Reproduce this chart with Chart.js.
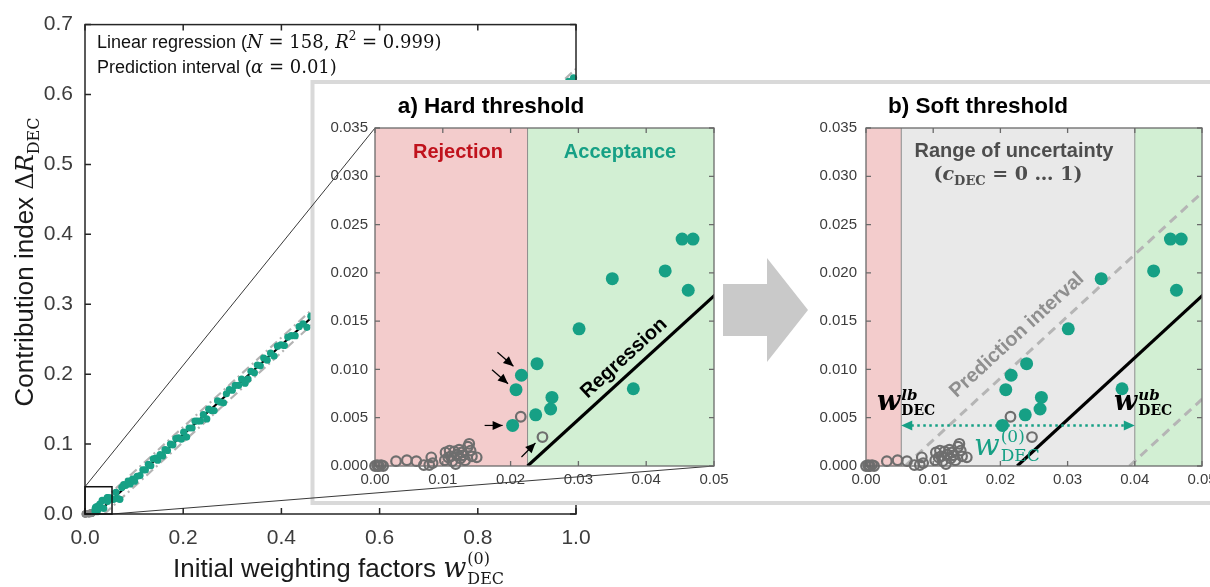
<!DOCTYPE html>
<html><head><meta charset="utf-8">
<script src="https://cdn.jsdelivr.net/npm/chart.js@4.4.1/dist/chart.umd.min.js"></script>
<style>
html,body{margin:0;padding:0;background:#fff;overflow:hidden;}
#wrap{position:relative;width:1210px;height:587px;overflow:hidden;background:#fff;}
canvas{position:absolute;left:0;top:0;}
</style></head><body>
<div id="wrap">
<canvas id="cMain" width="1300" height="587"></canvas>
<canvas id="cA" width="1300" height="587"></canvas>
<canvas id="cB" width="1300" height="587"></canvas>
</div>
<script>
// ---------------- DATA ----------------
const mainTealX=[0.052,0.058,0.063,0.067,0.071,0.075,0.079,0.083,0.088,0.092,0.097,0.101,0.106,0.112,0.118,0.123,0.129,0.134,0.139,0.144,0.148,0.153,0.158,0.163,0.168,0.174,0.179,0.185,0.190,0.196,0.201,0.207,0.212,0.218,0.224,0.229,0.235,0.241,0.248,0.252,0.258,0.263,0.270,0.276,0.282,0.288,0.294,0.300,0.306,0.313,0.319,0.326,0.332,0.338,0.345,0.351,0.357,0.364,0.371,0.378,0.385,0.392,0.399,0.406,0.413,0.420,0.428,0.436,0.444,0.452,0.460,0.52,0.58,0.64,0.70,0.76,0.82,0.88,0.94,0.972,0.985,0.995];
const mainTealY=[0.023,0.021,0.031,0.022,0.021,0.038,0.042,0.041,0.047,0.043,0.050,0.047,0.054,0.055,0.063,0.063,0.071,0.069,0.079,0.080,0.077,0.085,0.083,0.092,0.091,0.100,0.099,0.108,0.109,0.107,0.117,0.110,0.123,0.123,0.133,0.133,0.133,0.142,0.136,0.150,0.148,0.148,0.162,0.160,0.159,0.172,0.178,0.177,0.184,0.184,0.193,0.187,0.193,0.204,0.202,0.213,0.212,0.223,0.220,0.230,0.226,0.240,0.242,0.241,0.253,0.255,0.255,0.268,0.272,0.267,0.283,0.321,0.357,0.392,0.436,0.470,0.513,0.547,0.589,0.612,0.619,0.624];
const acceptedX=[0.0203,0.0208,0.0216,0.0237,0.0239,0.0259,0.0261,0.0301,0.0350,0.0381,0.0428,0.0453,0.0462,0.0469];
const acceptedY=[0.0042,0.0079,0.0094,0.0053,0.0106,0.0059,0.0071,0.0142,0.0194,0.0080,0.0202,0.0235,0.0182,0.0235];
const rejectedX=[0.0000,0.0003,0.0004,0.0006,0.0009,0.0012,0.0031,0.0047,0.0061,0.0072,0.0080,0.0083,0.0085,0.0103,0.0104,0.0108,0.0110,0.0112,0.0114,0.0117,0.0119,0.0121,0.0124,0.0126,0.0128,0.0130,0.0133,0.0137,0.0139,0.0141,0.0143,0.0150,0.0215,0.0247];
const rejectedY=[0.0000,0.0001,0.0000,0.0000,0.0001,0.0000,0.0005,0.0006,0.0005,0.0001,0.0001,0.0009,0.0003,0.0006,0.0014,0.0009,0.0016,0.0010,0.0005,0.0015,0.0002,0.0012,0.0017,0.0008,0.0014,0.0011,0.0006,0.0020,0.0023,0.0016,0.0010,0.0009,0.0051,0.0030];
const regressionX=[0.0225,1.0];
const regressionY=[0.0,0.626];
const piUpperX=[0.0058,1.0];
const piUpperY=[0.0,0.6367];
const piLowerX=[0.0392,1.0];
const piLowerY=[0.0,0.6153];
const hardThreshold=[0.0225];
const softBounds=[0.00525,0.04];
const zoomBox=[0.055,0.039];
const markedX=[0.0216,0.0208,0.0203,0.0247];
const markedY=[0.0094,0.0079,0.0042,0.0030];
const uncertaintyLevel=[0.0042];
const mainXTicks=[0,0.2,0.4,0.6,0.8,1.0];
const mainYTicks=[0,0.1,0.2,0.3,0.4,0.5,0.6,0.7];
const insetXTicks=[0,0.01,0.02,0.03,0.04,0.05];
const insetYTicks=[0,0.005,0.010,0.015,0.020,0.025,0.030,0.035];

// ---------------- STYLE ----------------
const W=1300,H=587;
const TEAL='#16a085', GRAYPT='#6e6e6e', TICKC='#3c3c3c';
const SANS='"Liberation Sans", Arial, sans-serif';
const SERIF='"DejaVu Serif", serif';
Chart.defaults.font.family=SANS;
const AREA={main:[85,22,576,514],a:[375,128,714,466],b:[866,128,1202,466]};

function pts(xs,ys){return xs.map((x,i)=>({x:x,y:ys[i]}));}

function rich(ctx,x,y,segs,align){
  const widths=segs.map(s=>{
    if(s.sup!==undefined){ctx.font=s.f;const a=ctx.measureText(s.sup).width;ctx.font=s.f2||s.f;const b=ctx.measureText(s.sub).width;return Math.max(a,b)+(s.k||0);}
    ctx.font=s.f;return ctx.measureText(s.t).width+(s.k||0);
  });
  const total=widths.reduce((p,q)=>p+q,0);
  let cx=align==='center'?x-total/2:align==='right'?x-total:x;
  ctx.textAlign='left';ctx.textBaseline='alphabetic';
  segs.forEach((s,i)=>{
    ctx.fillStyle=s.c||'#000';
    if(s.sup!==undefined){ctx.font=s.f;ctx.fillText(s.sup,cx,y+s.supDy);ctx.font=s.f2||s.f;ctx.fillText(s.sub,cx,y+s.subDy);}
    else{ctx.font=s.f;ctx.fillText(s.t,cx,y+(s.dy||0));}
    cx+=widths[i];
  });
}

function frame(chart,color,lw,len){
  const ctx=chart.ctx,a=chart.chartArea,x=chart.scales.x,y=chart.scales.y;
  ctx.save();ctx.strokeStyle=color;ctx.lineWidth=lw;
  ctx.strokeRect(a.left,a.top,a.right-a.left,a.bottom-a.top);
  ctx.beginPath();
  x.ticks.forEach(t=>{const p=x.getPixelForValue(t.value);ctx.moveTo(p,a.bottom);ctx.lineTo(p,a.bottom-len);ctx.moveTo(p,a.top);ctx.lineTo(p,a.top+len);});
  y.ticks.forEach(t=>{const p=y.getPixelForValue(t.value);ctx.moveTo(a.left,p);ctx.lineTo(a.left+len,p);ctx.moveTo(a.right,p);ctx.lineTo(a.right-len,p);});
  ctx.stroke();ctx.restore();
}

function arrowHead(ctx,x1,y1,x2,y2,len,wid){
  const ang=Math.atan2(y2-y1,x2-x1);
  ctx.beginPath();ctx.moveTo(x2,y2);
  ctx.lineTo(x2-len*Math.cos(ang)+wid*Math.sin(ang),y2-len*Math.sin(ang)-wid*Math.cos(ang));
  ctx.lineTo(x2-len*Math.cos(ang)-wid*Math.sin(ang),y2-len*Math.sin(ang)+wid*Math.cos(ang));
  ctx.closePath();ctx.fill();
}

function makeScales(area,xmin,xmax,ymin,ymax,xt,yt,fs,xdec,ydec,xpad,ypad){
  const [L,T,R,B]=area;
  return {
    x:{type:'linear',min:xmin,max:xmax,afterFit:s=>{s.height=H-B;},afterBuildTicks:s=>{s.ticks=xt.map(v=>({value:v}));},
       grid:{display:false,drawTicks:false},border:{display:false},
       ticks:{autoSkip:false,maxRotation:0,font:{size:fs},color:TICKC,padding:xpad,callback:v=>Number(v).toFixed(xdec)}},
    y:{type:'linear',min:ymin,max:ymax,afterFit:s=>{s.width=L;},afterBuildTicks:s=>{s.ticks=yt.map(v=>({value:v}));},
       grid:{display:false,drawTicks:false},border:{display:false},
       ticks:{autoSkip:false,font:{size:fs},color:TICKC,padding:ypad,callback:v=>Number(v).toFixed(ydec)}}
  };
}
function layoutFor(area){const [L,T,R,B]=area;return {padding:{left:0,top:T,right:W-R,bottom:0}};}

// ---------------- MAIN CHART ----------------
const mainPlugin={id:'mainDeco',
  afterDraw(chart){
    const ctx=chart.ctx,x=chart.scales.x,y=chart.scales.y,a=chart.chartArea;
    frame(chart,'#262626',1.5,6);
    // zoom box
    const bx1=x.getPixelForValue(0),by1=y.getPixelForValue(zoomBox[1]),bx2=x.getPixelForValue(zoomBox[0]),by2=y.getPixelForValue(0);
    ctx.save();ctx.strokeStyle='#111';ctx.lineWidth=1.5;ctx.strokeRect(bx1,by1,bx2-bx1,by2-by1);ctx.restore();
    // legend text
    ctx.save();
    const f1='18px '+SANS, fm='18px '+SERIF, fmi='italic 18px '+SERIF, fsup='12px '+SERIF;
    rich(ctx,97,48,[{t:'Linear regression (',f:f1,c:'#111'},{t:'N',f:fmi,c:'#111'},{t:' = 158, ',f:fm,c:'#111'},{t:'R',f:fmi,c:'#111'},{t:'2',f:fsup,dy:-8,c:'#111'},{t:' = 0.999)',f:fm,c:'#111'}],'left');
    rich(ctx,97,73,[{t:'Prediction interval (',f:f1,c:'#111'},{t:'α',f:fmi,c:'#111'},{t:' = 0.01)',f:fm,c:'#111'}],'left');
    // x title
    rich(ctx,173,577,[{t:'Initial weighting factors ',f:'26px '+SANS,c:'#1a1a1a'},{t:'w',f:'italic 27px '+SERIF,c:'#1a1a1a',k:1},{sup:'(0)',sub:'DEC',f:'16px '+SERIF,supDy:-13,subDy:7,c:'#1a1a1a'}],'left');
    // y title
    ctx.translate(33,262);ctx.rotate(-Math.PI/2);
    rich(ctx,0,0,[{t:'Contribution index ',f:'26px '+SANS,c:'#1a1a1a'},{t:'Δ',f:'24px '+SERIF,c:'#1a1a1a'},{t:'R',f:'italic 24px '+SERIF,c:'#1a1a1a'},{t:'DEC',f:'16px '+SERIF,dy:6,c:'#1a1a1a'}],'center');
    ctx.restore();
    // overlay panel
    ctx.save();ctx.fillStyle='#fff';ctx.fillRect(312,82,920,421);
    ctx.strokeStyle='#d9d9d9';ctx.lineWidth=4;ctx.strokeRect(312.5,82,920,421);ctx.restore();
    // big arrow
    ctx.save();ctx.fillStyle='#c9c9c9';ctx.beginPath();
    ctx.moveTo(723,284);ctx.lineTo(767,284);ctx.lineTo(767,258);ctx.lineTo(808,310);ctx.lineTo(767,362);ctx.lineTo(767,336);ctx.lineTo(723,336);ctx.closePath();ctx.fill();ctx.restore();
    // zoom connector lines
    const A=AREA.a;
    ctx.save();ctx.strokeStyle='#222';ctx.lineWidth=0.9;ctx.beginPath();
    ctx.moveTo(bx1,by1);ctx.lineTo(A[0],A[1]);ctx.moveTo(bx2,by2);ctx.lineTo(A[2],A[3]);ctx.stroke();ctx.restore();
  }};

new Chart(document.getElementById('cMain'),{
  type:'scatter',
  data:{datasets:[
    {data:pts(mainTealX.concat(acceptedX),mainTealY.concat(acceptedY)),pointRadius:3.6,backgroundColor:TEAL,borderWidth:0,order:0,clip:6},
    {data:pts(rejectedX,rejectedY),pointRadius:2.8,backgroundColor:'rgba(0,0,0,0)',borderColor:'#888',borderWidth:1.3,order:0,clip:6},
    {data:pts(regressionX,regressionY),showLine:true,borderColor:'#000',borderWidth:2.2,pointRadius:0,order:1},
    {data:pts(piUpperX,piUpperY),showLine:true,borderColor:'#b3b3b3',borderWidth:2.2,borderDash:[9,4,2,4],pointRadius:0,order:2},
    {data:pts(piLowerX,piLowerY),showLine:true,borderColor:'#b3b3b3',borderWidth:2.2,borderDash:[9,4,2,4],pointRadius:0,order:2}
  ]},
  options:{responsive:false,animation:false,events:[],layout:layoutFor(AREA.main),
    plugins:{legend:{display:false},tooltip:{enabled:false}},
    scales:makeScales(AREA.main,0,1,0,0.7,mainXTicks,mainYTicks,21,1,1,12,12)},
  plugins:[mainPlugin]
});

// ---------------- INSETS ----------------
function insetDatasets(withPI){
  const ds=[
    {data:pts(acceptedX,acceptedY),pointRadius:6.5,backgroundColor:TEAL,borderWidth:0,order:0,clip:8},
    {data:pts(rejectedX,rejectedY),pointRadius:4.8,backgroundColor:'rgba(0,0,0,0)',borderColor:GRAYPT,borderWidth:2.2,order:0,clip:8},
    {data:pts(regressionX,regressionY),showLine:true,borderColor:'#000',borderWidth:3.2,pointRadius:0,order:1}
  ];
  if(withPI){
    ds.push({data:pts(piUpperX,piUpperY),showLine:true,borderColor:'#b5b5b5',borderWidth:3,borderDash:[9,6],pointRadius:0,order:2});
    ds.push({data:pts(piLowerX,piLowerY),showLine:true,borderColor:'#b5b5b5',borderWidth:3,borderDash:[9,6],pointRadius:0,order:2});
  }
  return ds;
}
function region(chart,x0,x1,color){
  const a=chart.chartArea,x=chart.scales.x,ctx=chart.ctx;
  const p0=x.getPixelForValue(x0),p1=x.getPixelForValue(x1);
  ctx.fillStyle=color;ctx.fillRect(p0,a.top,p1-p0,a.bottom-a.top);
}
function divider(chart,v){
  const a=chart.chartArea,x=chart.scales.x,ctx=chart.ctx,p=x.getPixelForValue(v);
  ctx.save();ctx.strokeStyle='#8c8c8c';ctx.lineWidth=1;ctx.beginPath();ctx.moveTo(p,a.top);ctx.lineTo(p,a.bottom);ctx.stroke();ctx.restore();
}
function lineAngle(chart,xs,ys){
  const x=chart.scales.x,y=chart.scales.y;
  return Math.atan2(y.getPixelForValue(ys[1])-y.getPixelForValue(ys[0]),x.getPixelForValue(xs[1])-x.getPixelForValue(xs[0]));
}

const pluginA={id:'decoA',
  beforeDatasetsDraw(chart){
    const ctx=chart.ctx;ctx.save();
    region(chart,0,hardThreshold[0],'#f3cccc');
    region(chart,hardThreshold[0],0.05,'#d2efd3');
    ctx.restore();
    divider(chart,hardThreshold[0]);
  },
  afterDraw(chart){
    const ctx=chart.ctx,x=chart.scales.x,y=chart.scales.y;
    frame(chart,'#6a6a6a',1.3,5);
    ctx.save();
    ctx.textAlign='center';ctx.textBaseline='alphabetic';
    ctx.font='bold 22.5px '+SANS;ctx.fillStyle='#000';ctx.fillText('a) Hard threshold',491,113);
    ctx.font='bold 20px '+SANS;ctx.fillStyle='#c0121c';ctx.fillText('Rejection',458,158);
    ctx.fillStyle=TEAL;ctx.fillText('Acceptance',620,158);
    // regression label
    const ang=lineAngle(chart,regressionX,regressionY);
    ctx.save();ctx.translate(623,357);ctx.rotate(ang);ctx.font='bold 20px '+SANS;ctx.fillStyle='#000';ctx.fillText('Regression',0,7);ctx.restore();
    // arrows to marked points
    const offs=[[-24,-23,-8,-9],[-24,-20,-8,-6],[-28,0,-10,0],[-21,20,-7,6]];
    ctx.strokeStyle='#000';ctx.fillStyle='#000';ctx.lineWidth=1.2;
    markedX.forEach((mx,i)=>{
      const px=x.getPixelForValue(mx),py=y.getPixelForValue(markedY[i]),o=offs[i];
      const x1=px+o[0],y1=py+o[1],x2=px+o[2],y2=py+o[3];
      ctx.beginPath();ctx.moveTo(x1,y1);ctx.lineTo(x2,y2);ctx.stroke();
      arrowHead(ctx,x1,y1,x2,y2,10,4.5);
    });
    ctx.restore();
  }};

new Chart(document.getElementById('cA'),{
  type:'scatter',
  data:{datasets:insetDatasets(false)},
  options:{responsive:false,animation:false,events:[],layout:layoutFor(AREA.a),
    plugins:{legend:{display:false},tooltip:{enabled:false}},
    scales:makeScales(AREA.a,0,0.05,0,0.035,insetXTicks,insetYTicks,15,2,3,5,7)},
  plugins:[pluginA]
});

const pluginB={id:'decoB',
  beforeDatasetsDraw(chart){
    const ctx=chart.ctx;ctx.save();
    region(chart,0,softBounds[0],'#f3cccc');
    region(chart,softBounds[0],softBounds[1],'#e9e9e9');
    region(chart,softBounds[1],0.05,'#d2efd3');
    ctx.restore();
    divider(chart,softBounds[0]);divider(chart,softBounds[1]);
  },
  afterDraw(chart){
    const ctx=chart.ctx,x=chart.scales.x,y=chart.scales.y;
    frame(chart,'#6a6a6a',1.3,5);
    ctx.save();
    ctx.textAlign='center';ctx.textBaseline='alphabetic';
    ctx.font='bold 22.5px '+SANS;ctx.fillStyle='#000';ctx.fillText('b) Soft threshold',978,113);
    ctx.font='bold 20px '+SANS;ctx.fillStyle='#4d4d4d';ctx.fillText('Range of uncertainty',1014,157);
    rich(ctx,1008,180,[{t:'(',f:'bold 19px '+SERIF,c:'#4d4d4d'},{t:'c',f:'bold italic 19px '+SERIF,c:'#4d4d4d'},{t:'DEC',f:'bold 13px '+SERIF,dy:5,c:'#4d4d4d'},{t:' = 0 … 1)',f:'bold 19px '+SERIF,c:'#4d4d4d'}],'center');
    // prediction interval label
    const ang=lineAngle(chart,piUpperX,piUpperY);
    ctx.save();ctx.translate(1016,334);ctx.rotate(ang);ctx.textAlign='center';ctx.font='bold 20px '+SANS;ctx.fillStyle='#8f8f8f';ctx.fillText('Prediction interval',0,7);ctx.restore();
    // dotted double arrow
    const yl=y.getPixelForValue(uncertaintyLevel[0]),xl=x.getPixelForValue(softBounds[0]),xu=x.getPixelForValue(softBounds[1]);
    ctx.strokeStyle=TEAL;ctx.fillStyle=TEAL;ctx.lineWidth=2.6;ctx.setLineDash([2.5,3.5]);
    ctx.beginPath();ctx.moveTo(xl+10,yl);ctx.lineTo(xu-10,yl);ctx.stroke();ctx.setLineDash([]);
    arrowHead(ctx,xu-20,yl,xu,yl,11,5);arrowHead(ctx,xl+20,yl,xl,yl,11,5);
    // bound labels
    const wf='bold italic 27px '+SERIF, sf='bold italic 15px '+SERIF, df='bold 14px '+SERIF;
    rich(ctx,877,410,[{t:'w',f:wf,c:'#000',k:1},{sup:'lb',sub:'DEC',f:sf,f2:df,supDy:-10,subDy:5,c:'#000'}],'left');
    rich(ctx,1114,410,[{t:'w',f:wf,c:'#000',k:1},{sup:'ub',sub:'DEC',f:sf,f2:df,supDy:-10,subDy:5,c:'#000'}],'left');
    rich(ctx,974,455,[{t:'w',f:'italic 30px '+SERIF,c:TEAL,k:1},{sup:'(0)',sub:'DEC',f:'17px '+SERIF,supDy:-13,subDy:6,c:TEAL}],'left');
    ctx.restore();
  }};

new Chart(document.getElementById('cB'),{
  type:'scatter',
  data:{datasets:insetDatasets(true)},
  options:{responsive:false,animation:false,events:[],layout:layoutFor(AREA.b),
    plugins:{legend:{display:false},tooltip:{enabled:false}},
    scales:makeScales(AREA.b,0,0.05,0,0.035,insetXTicks,insetYTicks,15,2,3,5,9)},
  plugins:[pluginB]
});
</script>
</body></html>
